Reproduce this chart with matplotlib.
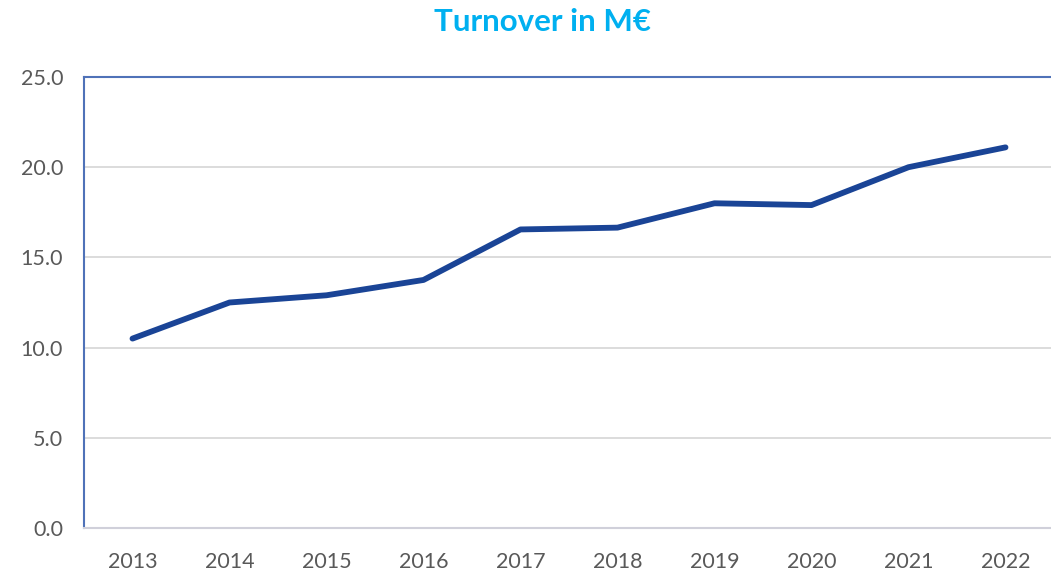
import matplotlib.pyplot as plt

# Data
years = ['2013', '2014', '2015', '2016', '2017', '2018', '2019', '2020', '2021', '2022']
turnover = [10.5, 12.5, 12.9, 13.75, 16.55, 16.65, 18.0, 17.9, 20.0, 21.1]
yticks = [0.0, 5.0, 10.0, 15.0, 20.0, 25.0]

W, H = 1051, 572
fig = plt.figure(figsize=(W / 100, H / 100), dpi=100)
# axes box in pixel terms: left 84, right ~1054, top 77, bottom 528
ax = fig.add_axes([84 / W, (H - 528) / H, (1054 - 84) / W, (528 - 77) / H])

x = list(range(len(years)))
ax.plot(x, turnover, color='#1A4496', linewidth=4.2, solid_capstyle='round',
        solid_joinstyle='round', zorder=3)

ax.set_xlim(-0.5, len(years) - 0.5)
ax.set_ylim(0, 25)
ax.set_xticks(x)
ax.set_xticklabels(years)
ax.set_yticks(yticks)
ax.set_yticklabels(['%.1f' % v for v in yticks])

# gridlines
ax.yaxis.grid(True, color='#D9D9D9', linewidth=1.3)
ax.set_axisbelow(True)

# spines
for side in ['left', 'top', 'right']:
    ax.spines[side].set_color('#4F72B8')
    ax.spines[side].set_linewidth(1.5)
ax.spines['bottom'].set_color('#D0D0DA')
ax.spines['bottom'].set_linewidth(1.5)

ax.tick_params(axis='both', length=0, labelsize=15.5, labelcolor='#595959')
ax.tick_params(axis='y', pad=15)
ax.tick_params(axis='x', pad=17)
for lab in ax.get_xticklabels() + ax.get_yticklabels():
    lab.set_fontfamily('Lato')

fig.text(542 / W, 1 - 22 / H, 'Turnover in M€', ha='center', va='center',
         fontsize=22.5, fontweight='bold', color='#00B0F0', family=['Lato', 'DejaVu Sans'])

plt.savefig('out.png', dpi=100)
